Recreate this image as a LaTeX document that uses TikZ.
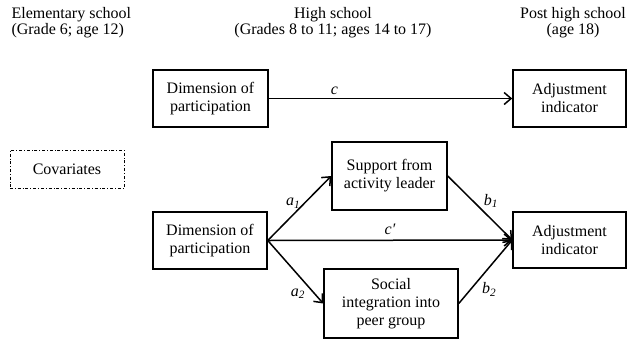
\documentclass[tikz,border=0pt]{standalone}
\usepackage{fontspec}
\setmainfont{Liberation Serif}
\usetikzlibrary{arrows.meta}
\begin{document}
\begin{tikzpicture}[x=1pt, y=-1pt,
		box/.style={draw, line width=1.5pt, align=center, inner sep=2pt, font=\fontsize{16}{18}\selectfont},
		path/.style={line width=1.5pt, -{Straight Barb[length=7pt, width=12pt, line width=1.5pt]}},
		lbl/.style={font=\fontsize{16}{18}\selectfont\itshape}]
			\useasboundingbox (0,0) rectangle (627,341);
			% headings
			\node (elem) [anchor=west, align=left, font=\fontsize{16}{16}\selectfont] at (8,23) {Elementary school\\(Grade 6; age 12)};
			\node (high) [align=center, font=\fontsize{16}{16}\selectfont] at (333,23) {High school\\(Grades 8 to 11; ages 14 to 17)};
			\node (post) [align=center, font=\fontsize{16}{16}\selectfont] at (573,23) {Post high school\\(age 18)};
			% total effect
			\node (dimA) [box, minimum width=115, minimum height=57] at (210.5,98.5) {Dimension of\\participation};
			\node (adjA) [box, minimum width=113, minimum height=57] at (569.5,98.5) {Adjustment\\indicator};
			\draw [path] (dimA) -- (adjA) node [lbl, pos=0.27, above] {c};
			% covariates
			\node (cov) [box, line width=0.7pt, dash dot, minimum width=114, minimum height=38] at (67,169) {Covariates};
			% mediation
			\node (dimB) [box, minimum width=114, minimum height=57] at (210,240.5) {Dimension of\\participation};
			\node (supp) [box, minimum width=115, minimum height=68] at (389.5,176) {Support from\\activity leader};
			\node (soc) [box, minimum width=134, minimum height=69] at (391,303.5) {Social\\integration into\\peer group};
			\node (adjB) [box, minimum width=113, minimum height=56] at (569.5,240) {Adjustment\\indicator};
			\draw [path] (dimB.east) -- (supp.west) node [lbl, pos=0.45, above left=-1pt, xshift=7pt] {a\textsubscript{1}};
			\draw [path] (dimB.east) -- (soc.west) node [lbl, pos=0.8, left=3pt, yshift=-3pt] {a\textsubscript{2}};
			\draw [path] (dimB.east) -- (adjB.west) node [lbl, pos=0.5, above, yshift=2pt] {c′};
			\draw [path] (supp.east) -- (adjB.west) node [lbl, pos=0.45, above right=-1pt, xshift=4pt, yshift=-6pt] {b\textsubscript{1}};
			\draw [path] (soc.east) -- (adjB.west) node [lbl, pos=0.25, right=6pt, yshift=-2pt] {b\textsubscript{2}};
		\end{tikzpicture}
\end{document}
